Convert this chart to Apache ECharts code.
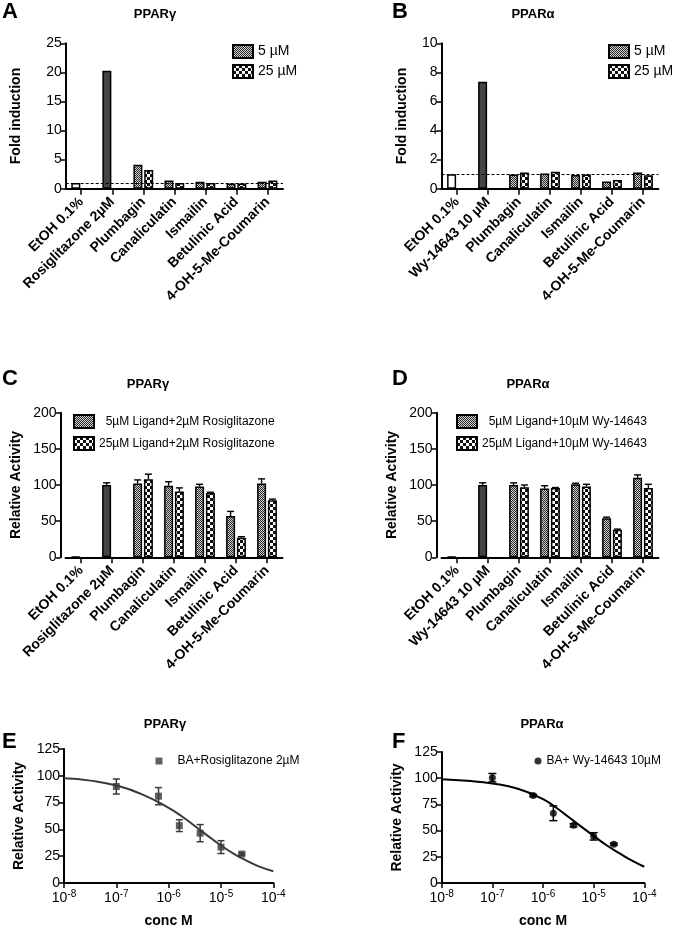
<!DOCTYPE html>
<html><head><meta charset="utf-8">
<script src="https://cdn.jsdelivr.net/npm/echarts@6/dist/echarts.min.js"></script>
<style>html,body{margin:0;padding:0;background:#fff}#c{width:675px;height:929px}</style>
</head><body><div id="c"></div>
<script>
// ---------- data ----------
const catsGamma = ['EtOH 0.1%','Rosiglitazone 2µM','Plumbagin','Canaliculatin','Ismailin','Betulinic Acid','4-OH-5-Me-Coumarin'];
const catsAlpha = ['EtOH 0.1%','Wy-14643 10 µM','Plumbagin','Canaliculatin','Ismailin','Betulinic Acid','4-OH-5-Me-Coumarin'];
// Panel A (fold induction, PPARγ)
const aCtrl = [1.0, 20.3];
const a5  = ['-','-',4.1,1.4,1.2,0.9,1.2];
const a25 = ['-','-',3.2,1.0,1.0,0.9,1.4];
// Panel B (fold induction, PPARα)
const bCtrl = [1.0, 7.35];
const b5  = ['-','-',0.98,1.05,0.95,0.50,1.11];
const b25 = ['-','-',1.11,1.16,0.98,0.59,0.93];
// Panel C (relative activity, PPARγ)
const cCtrl = [1, 100];            const cCtrlErr = [0, 3];
const c5  = ['-','-',102,99,98,57,102]; const c5Err  = [0,0,5,5.5,3,6.5,6.5];
const c25 = ['-','-',108,91,89,27,79];  const c25Err = [0,0,7,5,1,1.5,1.5];
// Panel D (relative activity, PPARα)
const dCtrl = [1, 100];            const dCtrlErr = [0, 3];
const d5  = ['-','-',100,95,101,54,110]; const d5Err  = [0,0,3,4,1.5,1.5,4];
const d25 = ['-','-',97,96,98,38,96];    const d25Err = [0,0,3,0.5,3,1,5];
// Panels E / F (dose response)
const conc  = [1e-7, 6.4e-7, 1.6e-6, 4e-6, 1e-5, 2.5e-5];
const eMean = [90, 81, 53.5, 46.5, 33.5, 27];
const eSem  = [7, 8, 5.5, 8, 6, 1];
const fMean = [100.5, 83.5, 66.5, 55, 44.5, 37];
const fSem  = [4, 1, 7, 1.5, 3.5, 1];
// fitted curves
const curveX = [1e-8, 3.2e-8, 1e-7, 3.2e-7, 1e-6, 1.8e-6, 3.2e-6, 5.6e-6, 1e-5, 1.8e-5, 3.2e-5, 5.6e-5, 1e-4];
const eCurve = [97.7, 95.5, 91, 82.5, 70, 62, 53, 44, 35, 27, 20.5, 15, 11];
const fCurve = [99, 97.5, 95, 90, 80, 72, 63, 54, 45, 36, 28.5, 21.5, 15.5];

// ---------- styling helpers ----------
const FONT = 'Liberation Sans, Arial, sans-serif';
function makePattern(size, cell, bg, fg) {
  const cv = document.createElement('canvas'); cv.width = cv.height = size;
  const g = cv.getContext('2d');
  g.fillStyle = bg; g.fillRect(0, 0, size, size);
  g.fillStyle = fg;
  for (let y = 0; y < size; y += cell) for (let x = 0; x < size; x += cell)
    if (((x + y) / cell) % 2 === 0) g.fillRect(x, y, cell, cell);
  return { image: cv, repeat: 'repeat' };
}
const pat5 = makePattern(2, 1, '#d0d0d0', '#2a2a2a');
const pat25 = makePattern(6, 3, '#ffffff', '#101010');
const BAR_W = 9, BAR_GAP = 0.2;
const SLOT_OFF = (BAR_W * (1 + BAR_GAP)) / 2;
const BORDER = 1.5;
const axisLine = { show: true, lineStyle: { color: '#000', width: 2 } };
const axisTick = { show: true, length: 5, lineStyle: { color: '#000', width: 1.5 } };

const grids = [
  { left: 65.7, top: 43.3, width: 217.3, height: 145.4 },
  { left: 441.5, top: 43.3, width: 217, height: 145.4 },
  { left: 65.5, top: 412.7, width: 217, height: 144.6 },
  { left: 441.5, top: 412.7, width: 217, height: 144.6 },
  { left: 64, top: 749, width: 209.3, height: 138.7 },
  { left: 441.7, top: 752, width: 202.6, height: 135.3 }
];

const xAxes = [], yAxes = [], series = [];

function catAxis(idx, cats) {
  xAxes.push({ type: 'category', gridIndex: idx, data: cats,
    axisLine, axisTick: { show: true, alignWithLabel: true, length: 6, lineStyle: { color: '#000', width: 1.5 } },
    axisLabel: { interval: 0, rotate: 45, fontSize: 14, fontWeight: 'bold', color: '#000', margin: 11, fontFamily: FONT },
    splitLine: { show: false } });
}
function valAxis(idx, max, interval, name, gap, offset) {
  yAxes.push({ type: 'value', gridIndex: idx, min: 0, max, interval, offset: offset || 0,
    name, nameLocation: 'middle', nameGap: gap,
    nameTextStyle: { fontSize: 14, fontWeight: 'bold', color: '#000', fontFamily: FONT },
    axisLine, axisTick, splitLine: { show: false },
    axisLabel: { fontSize: 14, color: '#000', margin: 4, fontFamily: FONT } });
}
function barSeries(idx, ctrl, s5, s25, n5, n25, refLine) {
  const ctrlColors = ['#ffffff', '#454545'];
  series.push({ type: 'bar', name: 'ctrl' + idx, xAxisIndex: idx, yAxisIndex: idx, stack: 'st' + idx,
    barWidth: BAR_W, barGap: (BAR_GAP * 100) + '%',
    itemStyle: { borderColor: '#000', borderWidth: BORDER },
    data: s5.map((v, i) => i < ctrl.length ? { value: ctrl[i], itemStyle: { color: ctrlColors[i] } } : '-') });
  series.push({ type: 'bar', name: n5, xAxisIndex: idx, yAxisIndex: idx, stack: 'st' + idx,
    barWidth: BAR_W, barGap: (BAR_GAP * 100) + '%',
    itemStyle: { color: pat5, borderColor: '#000', borderWidth: BORDER }, data: s5 });
  const s = { type: 'bar', name: n25, xAxisIndex: idx, yAxisIndex: idx,
    barWidth: BAR_W, barGap: (BAR_GAP * 100) + '%',
    itemStyle: { color: pat25, borderColor: '#000', borderWidth: BORDER }, data: s25 };
  if (refLine) s.markLine = { silent: true, symbol: 'none', label: { show: false },
    lineStyle: { type: [3, 2], color: '#000', width: 1 }, data: [{ yAxis: 1 }] };
  series.push(s);
}
function catErr(idx, means, errs, slot) {
  const data = [];
  means.forEach((m, i) => { if (m !== '-' && errs[i] > 0) data.push([i, m, m + errs[i]]); });
  series.push({ type: 'custom', xAxisIndex: idx, yAxisIndex: idx, silent: true, z: 4, data,
    renderItem(params, api) {
      const b = api.coord([api.value(0), api.value(1)]);
      const t = api.coord([api.value(0), api.value(2)]);
      const cx = b[0] + slot * SLOT_OFF;
      const st = { stroke: '#000', lineWidth: 1.4 };
      return { type: 'group', children: [
        { type: 'line', shape: { x1: cx, y1: b[1], x2: cx, y2: t[1] }, style: st },
        { type: 'line', shape: { x1: cx - 3.5, y1: t[1], x2: cx + 3.5, y2: t[1] }, style: st } ] };
    } });
}
function logAxis(idx) {
  xAxes.push({ type: 'log', logBase: 10, gridIndex: idx, min: 1e-8, max: 1e-4,
    name: 'conc M', nameLocation: 'middle', nameGap: 31,
    nameTextStyle: { fontSize: 14, fontWeight: 'bold', color: '#000', fontFamily: FONT },
    axisLine, axisTick, splitLine: { show: false }, minorTick: { show: false },
    axisLabel: { color: '#000', fontSize: 14, margin: 6, fontFamily: FONT,
      formatter: v => '10{s|' + Math.round(Math.log10(v)) + '}',
      rich: { s: { fontSize: 10, padding: [0, 0, 9, 0], color: '#000', fontFamily: FONT } } } });
}
function doseSeries(idx, name, mean, sem, curve, symbol, color, cap) {
  series.push({ type: 'line', xAxisIndex: idx, yAxisIndex: idx, smooth: true, showSymbol: false, silent: true,
    lineStyle: { color, width: 2 }, data: curveX.map((x, i) => [x, curve[i]]), z: 2 });
  series.push({ type: 'custom', xAxisIndex: idx, yAxisIndex: idx, silent: true, z: 3,
    data: conc.map((c, i) => [c, mean[i] - sem[i], mean[i] + sem[i]]),
    renderItem(params, api) {
      const lo = api.coord([api.value(0), api.value(1)]);
      const hi = api.coord([api.value(0), api.value(2)]);
      const st = { stroke: color, lineWidth: 1.5 };
      return { type: 'group', children: [
        { type: 'line', shape: { x1: lo[0], y1: lo[1], x2: hi[0], y2: hi[1] }, style: st },
        { type: 'line', shape: { x1: lo[0] - cap, y1: lo[1], x2: lo[0] + cap, y2: lo[1] }, style: st },
        { type: 'line', shape: { x1: hi[0] - cap, y1: hi[1], x2: hi[0] + cap, y2: hi[1] }, style: st } ] };
    } });
  series.push({ type: 'scatter', name, xAxisIndex: idx, yAxisIndex: idx, symbol, symbolSize: 7, z: 4,
    itemStyle: { color }, data: conc.map((c, i) => [c, mean[i]]) });
}

const nC5 = '5µM Ligand+2µM Rosiglitazone', nC25 = '25µM Ligand+2µM Rosiglitazone';
const nD5 = '5µM Ligand+10µM Wy-14643', nD25 = '25µM Ligand+10µM Wy-14643';

// A
catAxis(0, catsGamma); valAxis(0, 25, 5, 'Fold induction', 43, 0);
barSeries(0, aCtrl, a5, a25, '5 µM', '25 µM', true);
// B
catAxis(1, catsAlpha); valAxis(1, 10, 2, 'Fold induction', 32, 0);
barSeries(1, bCtrl, b5, b25, '5 µM ', '25 µM ', true);
// C
catAxis(2, catsGamma); valAxis(2, 200, 50, 'Relative Activity', 37.5, 5);
barSeries(2, cCtrl, c5, c25, nC5, nC25, false);
catErr(2, cCtrl.concat(['-','-','-','-','-']), cCtrlErr.concat([0,0,0,0,0]), -1);
catErr(2, c5, c5Err, -1); catErr(2, c25, c25Err, 1);
// D
catAxis(3, catsAlpha); valAxis(3, 200, 50, 'Relative Activity', 37.5, 5);
barSeries(3, dCtrl, d5, d25, nD5, nD25, false);
catErr(3, dCtrl.concat(['-','-','-','-','-']), dCtrlErr.concat([0,0,0,0,0]), -1);
catErr(3, d5, d5Err, -1); catErr(3, d25, d25Err, 1);
// E
logAxis(4); valAxis(4, 125, 25, 'Relative Activity', 38, 0);
doseSeries(4, 'BA+Rosiglitazone 2µM', eMean, eSem, eCurve, 'rect', '#3a3a3a', 3.5);
// F
logAxis(5); valAxis(5, 125, 25, 'Relative Activity', 37.7, 0);
doseSeries(5, 'BA+ Wy-14643 10µM', fMean, fSem, fCurve, 'circle', '#000', 4);

function ttl(text, x, y, size) {
  return { text, left: x, top: y, textAlign: size > 16 ? 'left' : 'center', padding: 0,
    textStyle: { fontSize: size, fontWeight: 'bold', color: '#000', fontFamily: FONT } };
}
const legendBase = { orient: 'vertical', icon: 'rect', itemWidth: 20, itemHeight: 13, padding: 0,
  selectedMode: false };
const padFirst = n => (n.charAt(0) === '5' && n.length > 8) ? '  ' + n : n;

const option = {
  animation: false,
  backgroundColor: '#fff',
  textStyle: { fontFamily: FONT },
  title: [
    ttl('A', 2, 1, 22), ttl('B', 392, 1, 22), ttl('C', 2, 368, 22),
    ttl('D', 392, 368, 22), ttl('E', 2, 731, 22), ttl('F', 392, 731, 22),
    ttl('PPARγ', 155, 8, 13), ttl('PPARα', 533, 8, 13),
    ttl('PPARγ', 148, 378, 13), ttl('PPARα', 528, 378, 13),
    ttl('PPARγ', 165, 718, 13), ttl('PPARα', 542, 718, 13)
  ],
  legend: [
    Object.assign({}, legendBase, { left: 232, top: 44, itemGap: 5, data: ['5 µM', '25 µM'], textStyle: { fontSize: 14, color: '#000', fontFamily: FONT } }),
    Object.assign({}, legendBase, { left: 608, top: 44, itemGap: 5, data: ['5 µM ', '25 µM '], textStyle: { fontSize: 14, color: '#000', fontFamily: FONT } }),
    Object.assign({}, legendBase, { left: 73, top: 414, itemGap: 7, data: [nC5, nC25], formatter: padFirst, textStyle: { fontSize: 12, color: '#000', fontFamily: FONT } }),
    Object.assign({}, legendBase, { left: 456, top: 414, itemGap: 7, data: [nD5, nD25], formatter: padFirst, textStyle: { fontSize: 12, color: '#000', fontFamily: FONT } }),
    { left: 155.5, top: 755, padding: 0, itemWidth: 7, itemHeight: 7, selectedMode: false, data: ['BA+Rosiglitazone 2µM'], textStyle: { fontSize: 12, color: '#000', fontFamily: FONT, padding: [0, 0, 0, 10] } },
    { left: 534.5, top: 755, padding: 0, itemWidth: 7, itemHeight: 7, selectedMode: false, data: ['BA+ Wy-14643 10µM'], textStyle: { fontSize: 12, color: '#000', fontFamily: FONT } }
  ],
  grid: grids,
  xAxis: xAxes,
  yAxis: yAxes,
  series
};
const chart = echarts.init(document.getElementById('c'), null, { renderer: 'canvas' });
chart.setOption(option);
</script>
</body></html>
